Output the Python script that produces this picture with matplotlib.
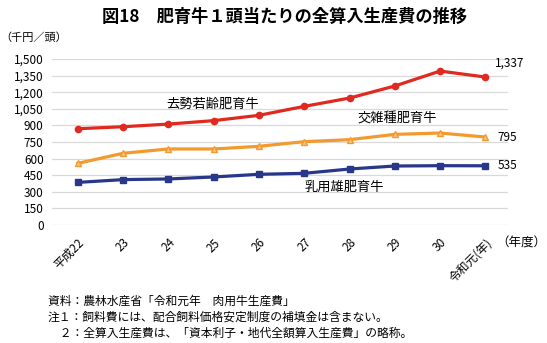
import matplotlib
matplotlib.use("Agg")
import matplotlib.pyplot as plt

plt.rcParams['font.family'] = ['Noto Sans CJK JP', 'DejaVu Sans']

categories = ["平成22", "23", "24", "25", "26", "27", "28", "29", "30", "令和元(年)"]
steer = [870, 888, 912, 943, 991, 1072, 1147, 1256, 1391, 1337]
cross = [557, 648, 687, 687, 711, 753, 771, 819, 831, 795]
dairy = [385, 410, 416, 434, 458, 467, 506, 533, 536, 535]
yticks = [0, 150, 300, 450, 600, 750, 900, 1050, 1200, 1350, 1500]
ytick_labels = ["0", "150", "300", "450", "600", "750", "900", "1,050", "1,200", "1,350", "1,500"]

red = "#e0291f"
orange = "#f39a2e"
blue = "#28378a"

fig = plt.figure(figsize=(5.47, 3.43), dpi=100)
ax = fig.add_axes([52/547, 1-225/343, (508-52)/547, (225-59)/343])

x = list(range(len(categories)))
ax.plot(x, steer, color=red, lw=2.3, marker='o', ms=4.5, zorder=3)
ax.plot(x, cross, color=orange, lw=2.3, marker='^', ms=4, mfc="#f7c48a", mec=orange, zorder=3)
ax.plot(x, dairy, color=blue, lw=2.3, marker='s', ms=4.5, zorder=3)

ax.set_xlim(-0.57, 9.5)
ax.set_ylim(0, 1500)
ax.set_yticks(yticks)
ax.set_yticklabels(ytick_labels, fontsize=8.5)
ax.set_xticks(x)
ax.set_xticklabels(categories, rotation=45, ha='right', va='top', rotation_mode='anchor', fontsize=8.5)
ax.tick_params(axis='both', length=0, pad=6)
ax.tick_params(axis='x', pad=8)
ax.grid(axis='y', color='#d9d9d9', lw=0.9)
ax.set_axisbelow(True)
for s in ax.spines.values():
    s.set_visible(False)

ax.annotate(f"{steer[-1]:,}", (x[-1], steer[-1]), xytext=(7, 10), textcoords='offset points', fontsize=8.5, va='center')
ax.annotate(f"{cross[-1]:,}", (x[-1], cross[-1]), xytext=(9, 0), textcoords='offset points', fontsize=8.5, va='center')
ax.annotate(f"{dairy[-1]:,}", (x[-1], dairy[-1]), xytext=(9, 0), textcoords='offset points', fontsize=8.5, va='center')

fig.text(213/547, 1-104/343, "去勢若齢肥育牛", fontsize=9.5, ha='center', va='center')
fig.text(397/547, 1-119/343, "交雑種肥育牛", fontsize=9.5, ha='center', va='center')
fig.text(344/547, 1-187/343, "乳用雄肥育牛", fontsize=9.5, ha='center', va='center')

fig.text(285/547, 1-17/343, "図18　肥育牛１頭当たりの全算入生産費の推移", fontsize=12.4, fontweight='bold', ha='center', va='center')
fig.text(0/547, 1-38/343, "（千円／頭）", fontsize=8, ha='left', va='center')
fig.text(546/547, 1-243/343, "（年度）", fontsize=9, ha='right', va='center')

notes = ["資料：農林水産省「令和元年　肉用牛生産費」",
         "注１：飼料費には、配合飼料価格安定制度の補填金は含まない。",
         "　２：全算入生産費は、「資本利子・地代全額算入生産費」の略称。"]
for i, n in enumerate(notes):
    fig.text(48/547, 1-(301+16*i)/343, n, fontsize=8.5, ha='left', va='center')

fig.savefig("out.png", dpi=100)
